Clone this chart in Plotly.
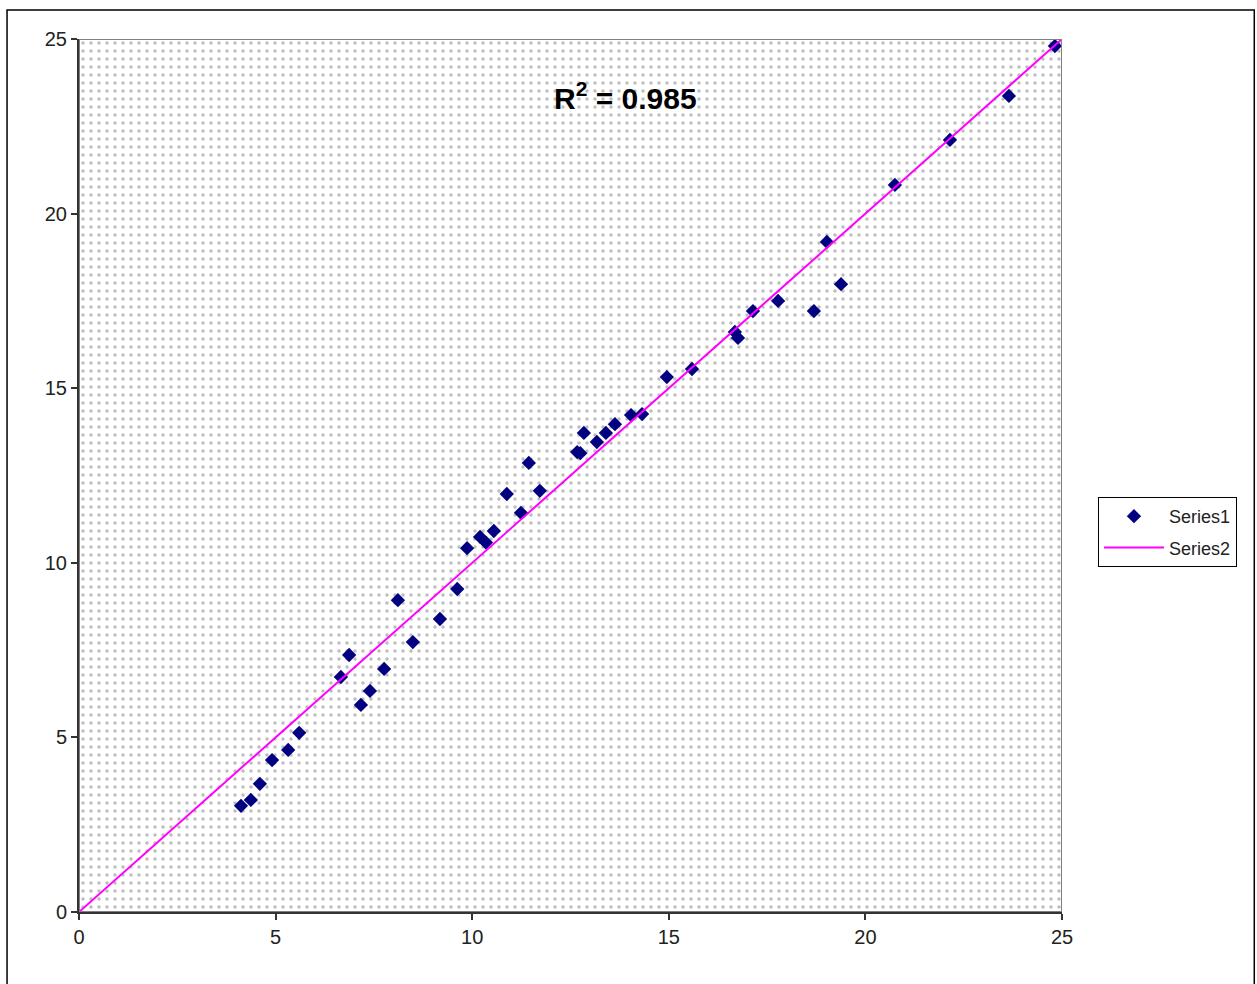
import plotly.graph_objects as go

# Observed vs. predicted values (Series1) and the 1:1 reference line (Series2)
series1_x = [4.12, 4.37, 4.60, 4.91, 5.32, 5.60, 6.66, 6.87, 7.17, 7.40,
             7.76, 8.11, 8.49, 9.18, 9.62, 9.87, 10.20, 10.35, 10.55, 10.88,
             11.24, 11.44, 11.72, 12.67, 12.75, 12.84, 13.17, 13.40, 13.63, 14.04,
             14.32, 14.95, 15.59, 16.68, 16.76, 17.14, 17.78, 18.69, 19.02, 19.38,
             20.75, 22.15, 23.65, 24.82]
series1_y = [3.04, 3.21, 3.67, 4.35, 4.64, 5.13, 6.73, 7.36, 5.93, 6.33,
             6.96, 8.93, 7.73, 8.39, 9.25, 10.42, 10.74, 10.58, 10.91, 11.97,
             11.43, 12.86, 12.06, 13.17, 13.14, 13.72, 13.46, 13.72, 13.97, 14.23,
             14.26, 15.32, 15.55, 16.61, 16.44, 17.21, 17.50, 17.21, 19.19, 17.98,
             20.82, 22.11, 23.37, 24.80]
series2_x = [0, 25]
series2_y = [0, 25]

r_squared_text = "R<sup>2</sup> = 0.985"
tick_values = [0, 5, 10, 15, 20, 25]
axis_min, axis_max = 0, 25

fig = go.Figure()

# Stippled plot-area background
fig.add_trace(go.Scatter(
    x=[axis_min, axis_max, axis_max, axis_min, axis_min],
    y=[axis_min, axis_min, axis_max, axis_max, axis_min],
    mode="none", fill="toself", fillcolor="white",
    fillpattern=dict(shape=".", fgcolor="#bcbcbc", bgcolor="white",
                     size=8, solidity=0.15, fillmode="replace"),
    showlegend=False, hoverinfo="skip",
))

fig.add_trace(go.Scatter(
    x=series1_x, y=series1_y, mode="markers", name="Series1",
    marker=dict(symbol="diamond", size=11, color="#000080"),
    legendgroup="a",
))
fig.add_trace(go.Scatter(
    x=series2_x, y=series2_y, mode="lines", name="Series2",
    line=dict(color="#FF00FF", width=2),
    legendgroup="b",
))

# Plot-area border (grey) and outer chart border (black)
fig.add_shape(type="rect", xref="x", yref="y", x0=axis_min, x1=axis_max,
              y0=axis_min, y1=axis_max, line=dict(color="#808080", width=2),
              layer="above")
fig.add_shape(type="rect", xref="paper", yref="paper",
              x0=-0.0732, x1=1.1956, y0=-0.10, y1=1.0332,
              line=dict(color="black", width=1.5))

fig.add_annotation(x=0.556, y=0.935, xref="paper", yref="paper",
                   text=r_squared_text, showarrow=False,
                   font=dict(family="Liberation Sans, Arial", size=30,
                             color="black", weight="bold"),
                   xanchor="center", yanchor="middle")

axis_common = dict(
    range=[axis_min, axis_max], tickvals=tick_values, showgrid=False, zeroline=False,
    showline=True, linecolor="#333333", linewidth=2,
    ticks="outside", ticklen=6, tickwidth=1.5, tickcolor="#333333",
    tickfont=dict(family="Liberation Sans, Arial", size=20, color="#222222"),
)

fig.update_layout(
    width=1257, height=984,
    margin=dict(l=79, r=195, t=39, b=72),
    paper_bgcolor="white", plot_bgcolor="white",
    xaxis=dict(**axis_common),
    yaxis=dict(**axis_common),
    showlegend=True,
    legend=dict(x=1.0366, y=0.4754, xanchor="left", yanchor="top",
                bordercolor="black", borderwidth=1, bgcolor="white",
                font=dict(family="Liberation Sans, Arial", size=18, color="#222222"),
                itemwidth=60, tracegroupgap=5),
)

fig.write_html("out.html")
